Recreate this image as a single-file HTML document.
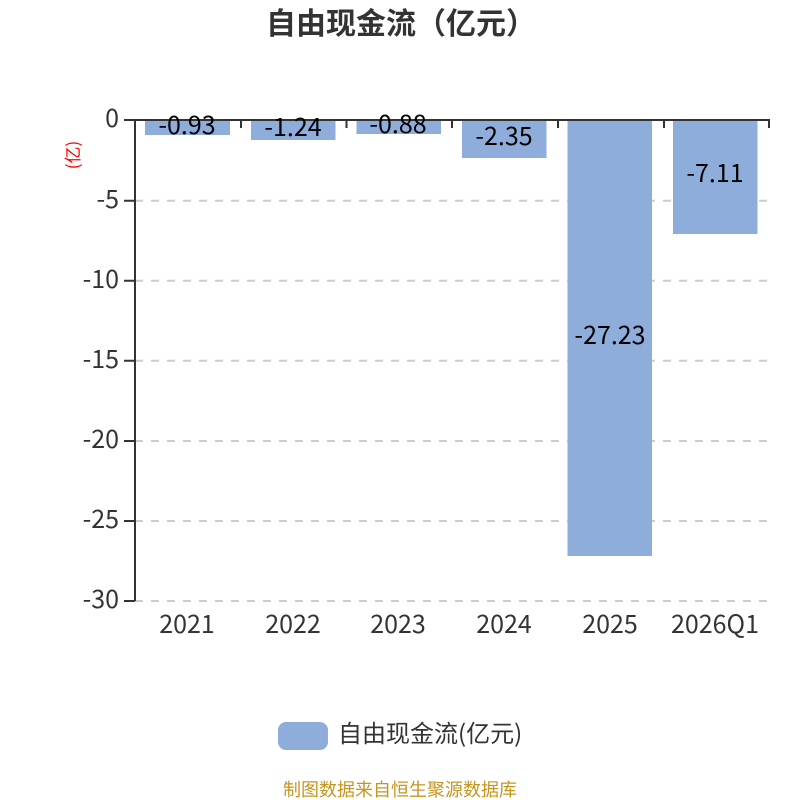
<!DOCTYPE html>
<html><head><meta charset="utf-8"><style>
html,body{margin:0;padding:0;background:#fff}
svg{display:block}
text{font-family:"Noto Sans CJK SC","Liberation Sans",sans-serif}
.n{font-size:25px}
.a{fill:#333}
.l{fill:#000;text-anchor:middle}
</style></head><body>
<svg width="800" height="800" viewBox="0 0 800 800" xmlns="http://www.w3.org/2000/svg">
<text x="266" y="34" font-size="30" font-weight="700" fill="#333">自由现金流（亿元）</text>
<g stroke="#ccc" stroke-width="2" stroke-dasharray="8 8" fill="none">
<path d="M135 200.700H770M135 280.700H770M135 360.800H770M135 441H770M135 521H770M135 601H770"/>
</g>
<g fill="#8eaddb">
<rect x="145" y="120" width="85" height="15"/>
<rect x="251" y="120" width="84.500" height="20"/>
<rect x="356.500" y="120" width="84.500" height="14"/>
<rect x="462" y="120" width="84.500" height="38"/>
<rect x="567.500" y="120" width="84.500" height="436"/>
<rect x="673" y="120" width="84.500" height="114"/>
</g>
<g stroke="#333" stroke-width="2" fill="none">
<path d="M124 120H135"/>
<path d="M135 120H770"/>
<path d="M135 119V601"/>
<path d="M241 120V128M346.500 120V128M452 120V128M558 120V128M664 120V128M769 120V128"/>
<path d="M124 200.700H135M124 280.700H135M124 360.800H135M124 441H135M124 521H135M124 601H135"/>
</g>
<g text-anchor="end">
<text x="119" y="127" class="n a">0</text>
<text x="119" y="208" class="n a">-5</text>
<text x="119" y="288" class="n a">-10</text>
<text x="119" y="368" class="n a">-15</text>
<text x="119" y="448" class="n a">-20</text>
<text x="119" y="528" class="n a">-25</text>
<text x="119" y="608" class="n a">-30</text>
</g>
<g text-anchor="middle">
<text x="187" y="633" class="n a">2021</text>
<text x="293" y="633" class="n a">2022</text>
<text x="398" y="633" class="n a">2023</text>
<text x="504" y="633" class="n a">2024</text>
<text x="610" y="633" class="n a">2025</text>
<text x="715" y="633" class="n a">2026Q1</text>
</g>
<g>
<text x="187" y="134" class="n l">-0.93</text>
<text x="293" y="136" class="n l">-1.24</text>
<text x="398" y="133" class="n l">-0.88</text>
<text x="504" y="145" class="n l">-2.35</text>
<text x="610" y="344" class="n l">-27.23</text>
<text x="715" y="182" class="n l">-7.11</text>
</g>
<text transform="translate(79 155) rotate(-90)" text-anchor="middle" font-size="17" fill="#f00">(亿)</text>
<rect x="278" y="722" width="50" height="28" rx="8" ry="8" fill="#8eaddb"/>
<text x="338" y="742" font-size="24" fill="#333">自由现金流(亿元)</text>
<text x="400" y="796" text-anchor="middle" font-size="18" fill="#c7941f">制图数据来自恒生聚源数据库</text>
</svg>
</body></html>
